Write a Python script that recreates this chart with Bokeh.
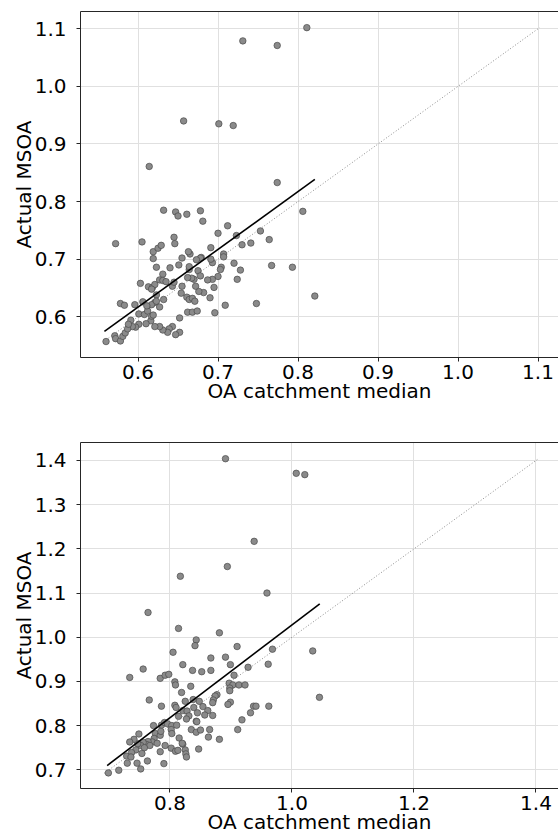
from bokeh.plotting import figure
from bokeh.models import Range1d, FixedTicker, PrintfTickFormatter, LinearAxis
from bokeh.layouts import column
from bokeh.embed import file_html
from bokeh.resources import INLINE

FONT = "DejaVu Sans"

# ---------------- data: top panel ----------------
top_x = [0.614, 0.774, 0.806, 0.632, 0.647, 0.650, 0.661, 0.678, 0.681, 0.572, 0.605, 0.700, 0.712, 0.723,
         0.730, 0.741, 0.753, 0.764, 0.767, 0.793, 0.821, 0.748, 0.709, 0.696, 0.720, 0.728, 0.724, 0.707,
         0.707, 0.704, 0.703, 0.700, 0.693, 0.691, 0.693, 0.687, 0.690, 0.695, 0.691, 0.679, 0.678, 0.673,
         0.675, 0.678, 0.682, 0.676, 0.672, 0.670, 0.667, 0.662, 0.664, 0.664, 0.665, 0.663, 0.655, 0.651,
         0.655, 0.654, 0.661, 0.664, 0.668, 0.671, 0.662, 0.668, 0.674, 0.652, 0.652, 0.647, 0.643, 0.639,
         0.637, 0.631, 0.627, 0.621, 0.616, 0.617, 0.619, 0.610, 0.601, 0.597, 0.593, 0.591, 0.601, 0.608,
         0.612, 0.606, 0.603, 0.613, 0.618, 0.621, 0.617, 0.623, 0.621, 0.617, 0.623, 0.627, 0.632, 0.627,
         0.631, 0.631, 0.635, 0.640, 0.623, 0.619, 0.619, 0.625, 0.629, 0.645, 0.646, 0.643, 0.645, 0.578,
         0.583, 0.596, 0.571, 0.572, 0.578, 0.581, 0.584, 0.587, 0.588, 0.560, 0.611, 0.811, 0.731, 0.774,
         0.657, 0.701, 0.719]
top_y = [0.861, 0.833, 0.783, 0.785, 0.782, 0.775, 0.778, 0.784, 0.766, 0.727, 0.730, 0.745, 0.758, 0.741,
         0.725, 0.728, 0.749, 0.734, 0.689, 0.686, 0.636, 0.623, 0.620, 0.607, 0.693, 0.681, 0.665, 0.709,
         0.704, 0.686, 0.682, 0.670, 0.694, 0.700, 0.665, 0.664, 0.633, 0.651, 0.720, 0.703, 0.702, 0.699,
         0.680, 0.671, 0.642, 0.644, 0.653, 0.665, 0.667, 0.668, 0.682, 0.687, 0.709, 0.713, 0.702, 0.690,
         0.653, 0.641, 0.634, 0.630, 0.632, 0.627, 0.608, 0.608, 0.610, 0.598, 0.573, 0.569, 0.583, 0.579,
         0.573, 0.577, 0.583, 0.583, 0.593, 0.601, 0.603, 0.588, 0.587, 0.582, 0.583, 0.594, 0.605, 0.604,
         0.610, 0.626, 0.658, 0.652, 0.651, 0.656, 0.648, 0.638, 0.625, 0.621, 0.627, 0.617, 0.630, 0.664,
         0.674, 0.663, 0.661, 0.685, 0.686, 0.701, 0.713, 0.719, 0.724, 0.738, 0.727, 0.653, 0.660, 0.623,
         0.620, 0.621, 0.567, 0.562, 0.558, 0.566, 0.572, 0.579, 0.587, 0.557, 0.619, 1.102, 1.079, 1.071,
         0.940, 0.935, 0.932]
top_fit_x = [0.558, 0.821]
top_fit_y = [0.5745, 0.8384]
top_ident = [0.557, 1.102]
top_xticks = [0.6, 0.7, 0.8, 0.9, 1.0, 1.1]
top_yticks = [0.6, 0.7, 0.8, 0.9, 1.0, 1.1]

# ---------------- data: bottom panel ----------------
bot_x = [0.894, 0.817, 0.959, 0.764, 0.814, 0.881, 0.843, 0.841, 0.910, 0.968, 1.034, 0.805, 0.867, 0.891,
         0.821, 0.899, 0.961, 0.837, 0.852, 0.867, 0.928, 0.905, 0.756, 0.734, 0.784, 0.792, 0.798, 0.808,
         0.809, 0.897, 0.903, 0.913, 0.923, 0.834, 0.898, 0.898, 0.877, 0.874, 0.871, 0.870, 0.899, 0.895,
         0.848, 0.838, 0.825, 0.819, 0.766, 0.786, 0.808, 0.810, 0.814, 0.821, 0.828, 0.831, 0.839, 0.854,
         0.862, 0.857, 0.870, 0.845, 0.843, 0.844, 0.827, 0.835, 0.843, 0.850, 0.865, 0.863, 0.881, 0.847,
         0.911, 0.918, 0.932, 0.937, 0.941, 0.962, 1.045, 0.786, 0.791, 0.796, 0.803, 0.811, 0.802, 0.803,
         0.773, 0.776, 0.784, 0.785, 0.774, 0.771, 0.764, 0.762, 0.767, 0.756, 0.752, 0.758, 0.747, 0.741,
         0.749, 0.734, 0.744, 0.737, 0.729, 0.736, 0.730, 0.746, 0.752, 0.763, 0.754, 0.779, 0.784, 0.790,
         0.792, 0.802, 0.809, 0.813, 0.815, 0.821, 0.825, 0.826, 0.827, 0.820, 0.699, 0.716, 0.891, 1.007,
         1.021, 0.938]
bot_y = [1.160, 1.138, 1.100, 1.056, 1.020, 1.010, 0.994, 0.981, 0.979, 0.973, 0.969, 0.966, 0.953, 0.955,
         0.938, 0.938, 0.939, 0.925, 0.922, 0.925, 0.932, 0.914, 0.928, 0.909, 0.907, 0.914, 0.916, 0.899,
         0.892, 0.896, 0.892, 0.892, 0.892, 0.889, 0.885, 0.879, 0.870, 0.867, 0.858, 0.852, 0.853, 0.848,
         0.855, 0.859, 0.855, 0.875, 0.858, 0.844, 0.846, 0.841, 0.821, 0.834, 0.833, 0.822, 0.841, 0.843,
         0.834, 0.824, 0.823, 0.829, 0.810, 0.809, 0.815, 0.791, 0.785, 0.790, 0.791, 0.774, 0.769, 0.747,
         0.791, 0.813, 0.829, 0.844, 0.844, 0.844, 0.864, 0.801, 0.807, 0.804, 0.800, 0.801, 0.791, 0.782,
         0.800, 0.782, 0.778, 0.787, 0.771, 0.763, 0.764, 0.757, 0.755, 0.762, 0.755, 0.750, 0.759, 0.769,
         0.781, 0.763, 0.745, 0.739, 0.731, 0.729, 0.715, 0.715, 0.702, 0.720, 0.737, 0.760, 0.741, 0.714,
         0.755, 0.749, 0.742, 0.744, 0.772, 0.758, 0.745, 0.736, 0.729, 0.760, 0.693, 0.699, 1.404, 1.371,
         1.368, 1.217]
bot_fit_x = [0.697, 1.0455]
bot_fit_y = [0.7097, 1.0756]
bot_ident = [0.692, 1.405]
bot_xticks = [0.8, 1.0, 1.2, 1.4]
bot_yticks = [0.7, 0.8, 0.9, 1.0, 1.1, 1.2, 1.3, 1.4]

X_LABEL = "OA catchment median"
Y_LABEL = "Actual MSOA"

AXIS_COLOR = "#262626"
GRID_COLOR = "#e0e0e0"


def style_text(ax):
    ax.axis_label_text_font = FONT
    ax.axis_label_text_font_size = "20px"
    ax.axis_label_text_font_style = "normal"
    ax.axis_label_text_color = "black"


def make_panel(xr, yr, xticks, yticks, px, py, fx, fy, ident, height, top, bottom):
    p = figure(width=558, height=height, x_range=Range1d(*xr), y_range=Range1d(*yr),
               output_backend="svg", toolbar_location=None,
               min_border_left=80, min_border_right=0, min_border_top=top, min_border_bottom=bottom)
    p.outline_line_color = None
    p.background_fill_color = "white"
    p.border_fill_color = "white"

    xt = FixedTicker(ticks=xticks)
    yt = FixedTicker(ticks=yticks)
    xa = p.below[0]
    ya = p.left[0]
    xa.ticker = xt
    ya.ticker = yt
    for ax in (xa, ya):
        ax.formatter = PrintfTickFormatter(format="%.1f")
        ax.axis_line_color = AXIS_COLOR
        ax.axis_line_width = 1
        ax.major_tick_line_color = AXIS_COLOR
        ax.major_tick_in = 0
        ax.major_tick_out = 4
        ax.minor_tick_line_color = None
        ax.major_label_text_font = FONT
        ax.major_label_text_font_size = "20px"
        ax.major_label_text_color = "black"
        style_text(ax)
    xa.major_label_standoff = 3
    xa.axis_label = X_LABEL
    xa.axis_label_standoff = -3
    ya.major_label_standoff = 10
    ya.axis_label = Y_LABEL
    ya.axis_label_standoff = -4

    top_ax = LinearAxis(ticker=FixedTicker(ticks=[]), axis_line_color=AXIS_COLOR, axis_line_width=1,
                        major_tick_line_color=None, minor_tick_line_color=None,
                        major_label_text_font_size="0px")
    p.add_layout(top_ax, "above")

    p.xgrid[0].ticker = xt
    p.ygrid[0].ticker = yt
    p.xgrid.grid_line_color = GRID_COLOR
    p.ygrid.grid_line_color = GRID_COLOR
    p.xgrid.grid_line_width = 1
    p.ygrid.grid_line_width = 1

    p.line(ident, ident, line_color="#8c8c8c", line_width=1, line_dash="1 2")
    p.scatter(px, py, size=6.5, fill_color="#8a8a8a", line_color="#4a4a4a", line_width=0.7)
    p.line(fx, fy, line_color="black", line_width=1.6)
    return p


p1 = make_panel((0.5281, 1.1256), (0.5293, 1.130), top_xticks, top_yticks, top_x, top_y,
                top_fit_x, top_fit_y, top_ident, 417, 11, 60)
p2 = make_panel((0.6533, 1.4369), (0.6577, 1.4407), bot_xticks, bot_yticks, bot_x, bot_y,
                bot_fit_x, bot_fit_y, bot_ident, 422, 25, 51)

layout = column(p1, p2, spacing=0)
open("out.html", "w").write(file_html(layout, INLINE))
